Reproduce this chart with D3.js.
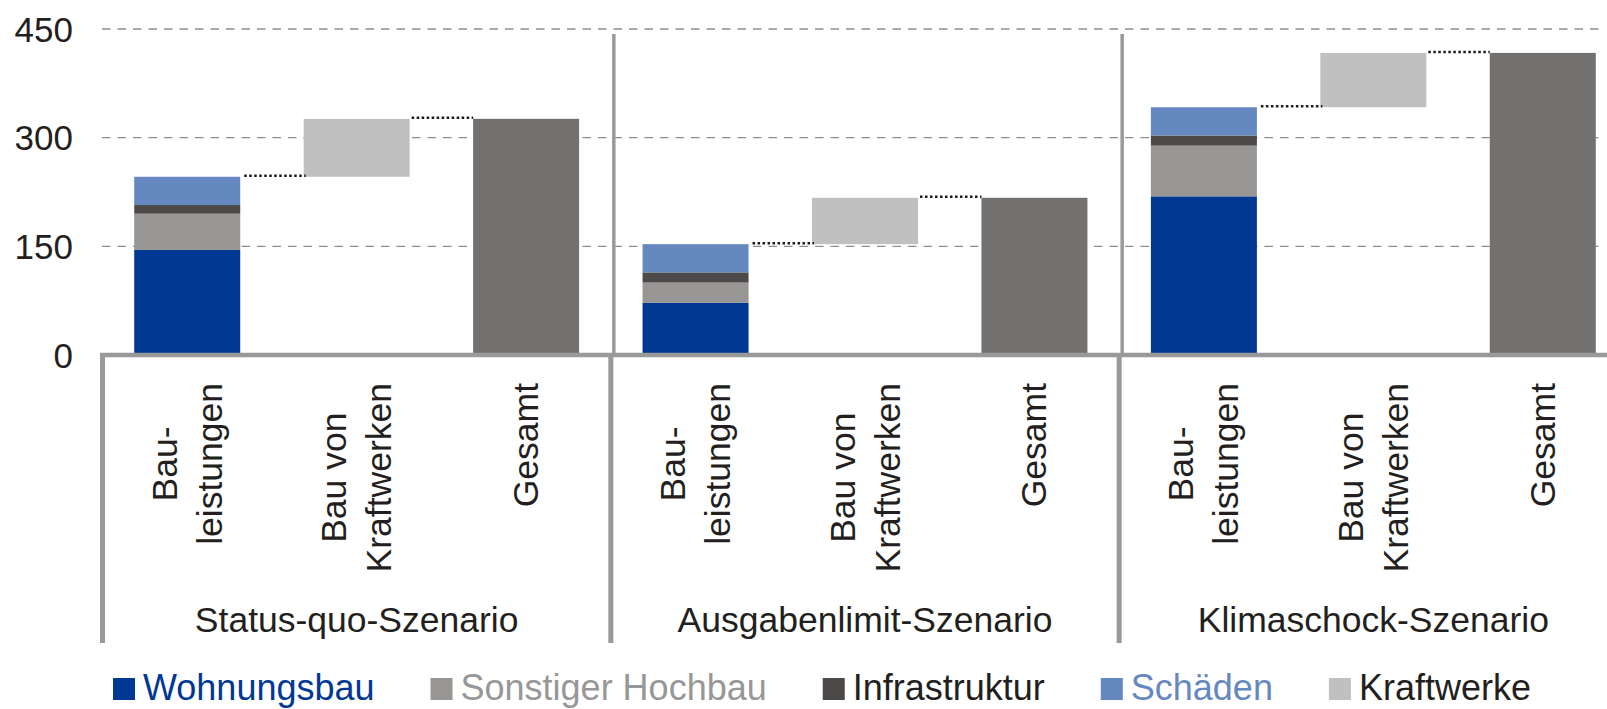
<!DOCTYPE html>
<html>
<head>
<meta charset="utf-8">
<script src="https://cdn.jsdelivr.net/npm/d3@7"></script>
<style>
  html, body { margin: 0; padding: 0; background: #fff; }
  svg { display: block; font-family: "Liberation Sans", Arial, sans-serif; }
</style>
</head>
<body>
<svg id="chart" width="1607" height="709"></svg>
<script>
// Scenario groups and the three steps inside each group
const scenarios = ["Status-quo-Szenario", "Ausgabenlimit-Szenario", "Klimaschock-Szenario"];
const steps = [["Bau-", "leistungen"], ["Bau von", "Kraftwerken"], ["Gesamt"]];

// Construction spending by component (one value per scenario)
const wohnungsbau      = [145, 72, 219];
const sonstigerHochbau = [50, 28, 70];
const infrastruktur    = [12, 14, 14];
const schaeden         = [39, 39, 39];
const kraftwerke       = [80, 64, 75];

const yTicks = [0, 150, 300, 450];

const seriesNames = ["Wohnungsbau", "Sonstiger Hochbau", "Infrastruktur", "Schäden", "Kraftwerke"];
const seriesColors = {
  "Wohnungsbau": "#003893",
  "Sonstiger Hochbau": "#979695",
  "Infrastruktur": "#4d4949",
  "Schäden": "#6688c0",
  "Kraftwerke": "#c0c0c0"
};
const legendTextColors = {
  "Wohnungsbau": "#003893",
  "Sonstiger Hochbau": "#979797",
  "Infrastruktur": "#231f20",
  "Schäden": "#6688c0",
  "Kraftwerke": "#231f20"
};
const totalColor = "#72716f";
const textColor = "#231f20";
const lineGray = "#999999";

const svg = d3.select("#chart");

// Scales
const y = d3.scaleLinear().domain([0, 450]).range([355, 29]);
const keys = [];
scenarios.forEach((s, i) => steps.forEach((st, j) => keys.push(i + "-" + j)));
const x = d3.scaleBand().domain(keys).range([102.5, 1627.5])
  .paddingInner(0.3744).paddingOuter(0.1872);
const bw = x.bandwidth();
const stepW = x.step();
const groupBounds = [0, 1, 2].map(k => x.range()[0] + k * 3 * stepW);

// Stacked construction components
const stackKeys = ["Wohnungsbau", "Sonstiger Hochbau", "Infrastruktur", "Schäden"];
const rows = scenarios.map((s, i) => ({
  scenario: i,
  "Wohnungsbau": wohnungsbau[i],
  "Sonstiger Hochbau": sonstigerHochbau[i],
  "Infrastruktur": infrastruktur[i],
  "Schäden": schaeden[i]
}));
const stacked = d3.stack().keys(stackKeys)(rows);
const baseTotals = rows.map(r => d3.sum(stackKeys, k => r[k]));
const grandTotals = baseTotals.map((t, i) => t + kraftwerke[i]);

// Horizontal dashed gridlines
svg.append("g").selectAll("line")
  .data(yTicks.filter(t => t > 0))
  .join("line")
  .attr("x1", 102).attr("x2", 1600)
  .attr("y1", d => y(d)).attr("y2", d => y(d))
  .attr("stroke", "#8e8e8e").attr("stroke-width", 1.3)
  .attr("stroke-dasharray", "8.5,7");

// Upper group separators inside the plot
svg.append("g").selectAll("line")
  .data(groupBounds.slice(1))
  .join("line")
  .attr("x1", d => d + 3).attr("x2", d => d + 3)
  .attr("y1", 34).attr("y2", y(0))
  .attr("stroke", lineGray).attr("stroke-width", 3.5);

// Stacked bars
const barsG = svg.append("g");
stacked.forEach(layer => {
  barsG.append("g").attr("fill", seriesColors[layer.key])
    .selectAll("rect").data(layer).join("rect")
    .attr("x", d => x(d.data.scenario + "-0"))
    .attr("width", bw)
    .attr("y", d => y(d[1]))
    .attr("height", d => y(d[0]) - y(d[1]));
});

// Floating power-plant bars
barsG.append("g").attr("fill", seriesColors["Kraftwerke"])
  .selectAll("rect").data(scenarios.map((s, i) => i)).join("rect")
  .attr("x", i => x(i + "-1"))
  .attr("width", bw)
  .attr("y", i => y(grandTotals[i]))
  .attr("height", i => y(baseTotals[i]) - y(grandTotals[i]));

// Total bars
barsG.append("g").attr("fill", totalColor)
  .selectAll("rect").data(scenarios.map((s, i) => i)).join("rect")
  .attr("x", i => x(i + "-2"))
  .attr("width", bw)
  .attr("y", i => y(grandTotals[i]))
  .attr("height", i => y(0) - y(grandTotals[i]));

// Dotted connectors between the waterfall steps
const conn = [];
scenarios.forEach((s, i) => {
  conn.push({ x1: x(i + "-0") + bw + 4, x2: x(i + "-1") + 2, v: baseTotals[i] });
  conn.push({ x1: x(i + "-1") + bw + 2, x2: x(i + "-2"), v: grandTotals[i] });
});
svg.append("g").selectAll("line").data(conn).join("line")
  .attr("x1", d => d.x1).attr("x2", d => d.x2)
  .attr("y1", d => y(d.v) - 1).attr("y2", d => y(d.v) - 1)
  .attr("stroke", "#1a1a1a").attr("stroke-width", 2.5)
  .attr("stroke-dasharray", "2.5,2.5");

// Baseline axis
svg.append("line")
  .attr("x1", 100).attr("x2", 1607)
  .attr("y1", y(0)).attr("y2", y(0))
  .attr("stroke", lineGray).attr("stroke-width", 4.5);

// Lower group separators in the label area
svg.append("g").selectAll("line")
  .data(groupBounds)
  .join("line")
  .attr("x1", d => d).attr("x2", d => d)
  .attr("y1", y(0) - 2).attr("y2", 643)
  .attr("stroke", lineGray).attr("stroke-width", 5);

// Y axis labels
const yAxis = d3.axisLeft(y).tickValues(yTicks).tickSize(0).tickPadding(0);
const yg = svg.append("g").attr("transform", "translate(73,0)").call(yAxis);
yg.select(".domain").remove();
yg.selectAll("text")
  .attr("font-size", 35)
  .attr("font-family", "\"Liberation Sans\", Arial, sans-serif")
  .attr("fill", textColor)
  .attr("dy", "0.35em");

// Rotated step labels
const labelTop = 383;
const lineGap = 45;
scenarios.forEach((s, i) => {
  steps.forEach((lines, j) => {
    const c = x(i + "-" + j) + bw / 2;
    const g = svg.append("g");
    const texts = lines.map(l => g.append("text")
      .attr("font-size", 35.5).attr("fill", textColor)
      .attr("text-anchor", "middle").text(l));
    const maxLen = d3.max(texts, t => t.node().getComputedTextLength());
    const n = lines.length;
    texts.forEach((t, k) => {
      const bx = c + 12 + (k - (n - 1) / 2) * lineGap;
      t.attr("transform", `translate(${bx},${labelTop + maxLen / 2}) rotate(-90)`);
    });
  });
});

// Scenario labels
svg.append("g").selectAll("text").data(scenarios).join("text")
  .attr("x", (d, i) => groupBounds[i] + 1.5 * stepW)
  .attr("y", 632)
  .attr("text-anchor", "middle")
  .attr("font-size", 35.5).attr("fill", textColor)
  .text(d => d);

// Legend
const legend = svg.append("g");
let lx = 113;
seriesNames.forEach(name => {
  legend.append("rect")
    .attr("x", lx).attr("y", 678).attr("width", 22).attr("height", 22)
    .attr("fill", seriesColors[name]);
  const t = legend.append("text")
    .attr("x", lx + 30).attr("y", 700)
    .attr("font-size", 36).attr("fill", legendTextColors[name])
    .text(name);
  lx += 30 + t.node().getComputedTextLength() + 56;
});
</script>
</body>
</html>
